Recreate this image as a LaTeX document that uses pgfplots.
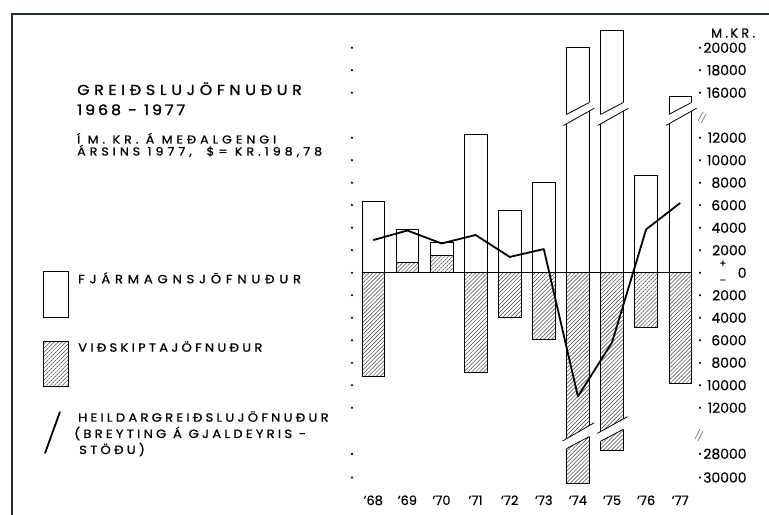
\documentclass[border=0pt]{standalone}
\usepackage{fontspec}
\setmainfont{Poppins}[FakeBold=0.4]
\newfontfamily\titlefont[LetterSpace=32, FakeBold=1.2, FakeStretch=1.1]{Poppins}
\newfontfamily\yearfont[LetterSpace=20, FakeBold=1.2, FakeStretch=1.1]{Poppins}
\newfontfamily\subfont[LetterSpace=35, FakeBold=0.9, FakeStretch=1.1]{Poppins}
\newfontfamily\legfont[LetterSpace=27, FakeBold=0.9, FakeStretch=1.1]{Poppins}
\newfontfamily\legwidefont[LetterSpace=40, FakeBold=0.9, FakeStretch=1.1]{Poppins}
\newfontfamily\unitfont[LetterSpace=25, FakeBold=0.6]{Poppins}
\usepackage{pgfplots}
\pgfplotsset{compat=1.18}
\usetikzlibrary{patterns.meta}
\definecolor{framec}{rgb}{0.12,0.2,0.16}
\tikzset{hatch/.style={pattern={Lines[angle=45,distance=2.8bp,line width=0.5bp]},pattern color=black!75}}
\begin{document}
\begin{tikzpicture}
\begin{scope}[x=1bp,y=1bp]
\path[use as bounding box] (0,0) rectangle (769,515);
\draw[framec, line width=2.5bp] (12,0) -- (12,501) -- (769,501);
% title
\node[anchor=base west, inner sep=0pt, font=\titlefont\fontsize{14.5}{16}\selectfont] at (77,420) {GREIÐSLUJÖFNUÐUR};
\node[anchor=base west, inner sep=0pt, font=\yearfont\fontsize{14.5}{16}\selectfont] at (77,400) {1968 - 1977};
\node[anchor=base west, inner sep=0pt, font=\subfont\fontsize{11.5}{13}\selectfont] at (77,371.5) {Í M. KR. Á MEÐALGENGI};
\node[anchor=base west, inner sep=0pt, font=\subfont\fontsize{11.5}{13}\selectfont] at (77,359.5) {ÁRSINS 1977,\ \ \$= KR.198,78};
% legend
\draw[line width=0.8bp, fill=white] (43,197.7) rectangle (68,243.3);
\draw[line width=0.8bp, hatch] (43,129) rectangle (68,173.3);
\draw[line width=1.8bp] (45,61.7) -- (60,103.3);
\node[anchor=base west, inner sep=0pt, font=\legwidefont\fontsize{12}{13}\selectfont] at (78,231.7) {FJÁRMAGNSJÖFNUÐUR};
\node[anchor=base west, inner sep=0pt, font=\legfont\fontsize{12}{13}\selectfont] at (78,163.3) {VIÐSKIPTAJÖFNUÐUR};
\node[anchor=base west, inner sep=0pt, font=\legfont\fontsize{12}{13}\selectfont] at (78,93.3) {HEILDARGREIÐSLUJÖFNUÐUR};
\node[anchor=base west, inner sep=0pt, font=\legfont\fontsize{12}{13}\selectfont] at (74,77) {(BREYTING Á GJALDEYRIS -};
\node[anchor=base west, inner sep=0pt, font=\legfont\fontsize{12}{13}\selectfont] at (79,61) {STÖÐU)};
\end{scope}
\begin{axis}[at={(346bp,22.9bp)}, anchor=south west, scale only axis,
  width=361.5bp, height=466.9bp,
  xmin=67.2, xmax=77.8, ymin=-19.5, ymax=22, clip=false,
  axis line style={draw=none}, major tick length=0pt,
  xtick={68,...,77},
  xticklabels={’68,’69,’70,’71,’72,’73,’74,’75,’76,’77},
  xticklabel style={anchor=base, inner sep=0pt, yshift=-12.9bp, font=\fontsize{13}{14}\selectfont},
  ytick={20,18,16,12,10,8,6,4,2,0,-2,-4,-6,-8,-10,-12,-16.1,-18.2},
  yticklabels={20000,18000,16000,12000,10000,8000,6000,4000,2000,0,2000,4000,6000,8000,10000,12000,28000,30000},
  yticklabel pos=right,
  yticklabel style={anchor=east, inner sep=0pt, xshift=39.2bp, font=\fontsize{14}{15}\selectfont},
]
% grid dots
\addplot[only marks, mark=*, mark size=0.9bp, black] coordinates {(67.375,20)(67.375,18)(67.375,16)(67.375,12)(67.375,10)(67.375,8)(67.375,6)(67.375,4)(67.375,2)(67.375,0)(67.375,-2)(67.375,-4)(67.375,-6)(67.375,-8)(67.375,-10)(67.375,-12)(67.375,-16.1)(67.375,-18.2)};
\addplot[only marks, mark=*, mark size=0.9bp, black] coordinates {(77.58,20)(77.58,18)(77.58,16)(77.58,12)(77.58,10)(77.58,8)(77.58,6)(77.58,4)(77.58,2)(77.58,0)(77.58,-2)(77.58,-4)(77.58,-6)(77.58,-8)(77.58,-10)(77.58,-12)(77.58,-16.1)(77.58,-18.2)};
% capital balance
\addplot[ybar, bar width=22.7bp, bar shift=0pt, fill=white, draw=black, line width=0.7bp] coordinates {(68,6.3)(69,3.85)(70,2.7)(71,12.3)(72,5.5)(73,8.0)(74,20.0)(75,21.5)(76,8.65)(77,15.7)};
% current account
\addplot[ybar, bar width=22.7bp, bar shift=0pt, hatch, draw=black, line width=0.7bp] coordinates {(68,-9.2)(69,0.9)(70,1.55)(71,-8.9)(72,-4.0)(73,-5.9)(74,-18.7)(75,-15.8)(76,-4.9)(77,-9.8)};
% breaks positive
\fill[white] (73.64,13.188) -- (74.36,14.412) -- (74.36,15.176) -- (73.64,14.024) -- cycle;
\fill[white] (74.64,13.188) -- (75.36,14.412) -- (75.36,15.176) -- (74.64,14.024) -- cycle;
\fill[white] (76.64,13.188) -- (77.36,14.412) -- (77.36,15.176) -- (76.64,14.024) -- cycle;
\draw[line width=0.8bp] (73.58,13.086) -- (74.48,14.616);
\draw[line width=0.8bp] (73.667,14.067) -- (74.333,15.133);
\draw[line width=0.8bp] (74.58,13.086) -- (75.48,14.616);
\draw[line width=0.8bp] (74.667,14.067) -- (75.333,15.133);
\draw[line width=0.8bp] (76.58,13.086) -- (77.48,14.616);
\draw[line width=0.8bp] (76.667,14.067) -- (77.333,15.133);
% breaks negative
\fill[white] (73.64,-14.8) -- (74.36,-13.54) -- (74.36,-14.524) -- (73.64,-15.676) -- cycle;
\fill[white] (74.64,-14.165) -- (75.36,-12.955) -- (75.36,-13.874) -- (74.64,-15.026) -- cycle;
\draw[line width=0.8bp] (73.55,-14.96) -- (74.48,-13.33);
\draw[line width=0.8bp] (73.667,-15.633) -- (74.333,-14.567);
\draw[line width=0.8bp] (74.57,-14.28) -- (75.45,-12.80);
\draw[line width=0.8bp] (74.667,-14.983) -- (75.333,-13.917);
% zero line
\draw[line width=0.8bp] (67.667,0) -- (77.35,0);
% axis break marks
\draw[line width=0.5bp, black!70] (77.52,13.48) -- (77.67,14.28);
\draw[line width=0.5bp, black!70] (77.61,13.31) -- (77.76,14.11);
\draw[line width=0.5bp, black!70] (77.43,-14.78) -- (77.58,-13.9);
\draw[line width=0.5bp, black!70] (77.52,-14.96) -- (77.67,-14.07);
% total balance
\addplot[line width=1.8bp, black, line join=round] coordinates {(68,2.9)(69,3.75)(70,2.6)(71,3.35)(72,1.4)(73,2.1)(74,-11.0)(75,-6.2)(76,3.85)(77,6.2)};
% + and - at zero, unit
\node[font=\fontsize{10}{10}\selectfont, inner sep=0pt] at (78.25,0.8) {+};
\node[font=\fontsize{10}{10}\selectfont, inner sep=0pt] at (78.25,-0.8) {–};
\node[font=\unitfont\fontsize{13}{14}\selectfont, inner sep=0pt] at (78.55,21.3) {M.\,KR.};
\end{axis}
\end{tikzpicture}
\end{document}
